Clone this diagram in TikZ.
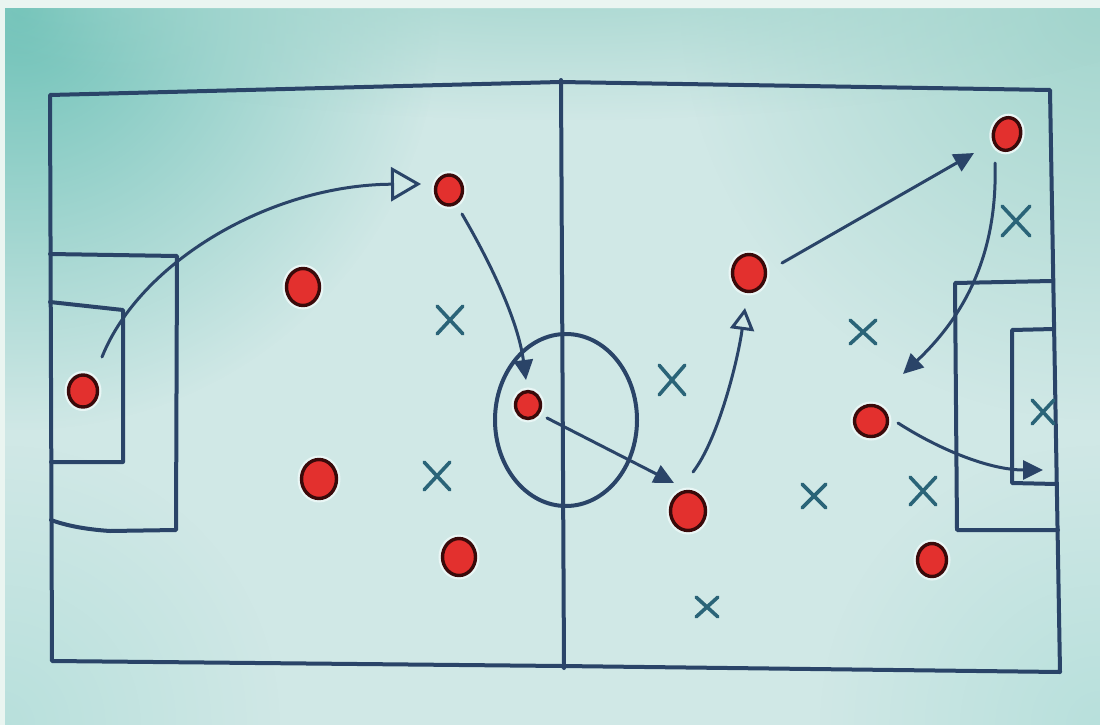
\documentclass[tikz,border=0pt]{standalone}
\usetikzlibrary{arrows.meta,shapes.geometric,shapes.misc,calc,fadings}
\definecolor{navy}{HTML}{2A4468}
\definecolor{teamx}{HTML}{2A6478}
\definecolor{pred}{HTML}{E3302E}
\definecolor{pdark}{HTML}{3A0A0A}
\definecolor{halo}{HTML}{E9F6F5}
\definecolor{paper}{HTML}{D0E8E6}
\definecolor{tealA}{HTML}{6FC2B8}
\definecolor{tealB}{HTML}{A2D5CD}
\definecolor{tealC}{HTML}{B8E0DC}
\definecolor{frame}{HTML}{EAF5F1}
\tikzfading[name=softblob,inner color=transparent!0,outer color=transparent!100]
\begin{document}
\begin{tikzpicture}[x=1pt,y=-1pt,
  fieldline/.style={draw=navy,line width=4pt,line join=round,line cap=round},
  player/.style={ellipse,fill=pred,draw=pdark,line width=3.4pt,inner sep=0pt,
    preaction={draw=halo,line width=8pt}},
  opp/.style={cross out,draw=teamx,line width=3.6pt,inner sep=0pt,line cap=round},
  pass/.style={draw=navy,line width=3pt,line cap=round},
  filledhead/.style={-{Triangle[length=20pt,width=19pt]}},
  bigopen/.style={-{Triangle[open,length=30pt,width=34pt]}},
  smallopen/.style={-{Triangle[open,length=22pt,width=24pt]}},
  blob/.style={path fading=softblob,fit fading=true},
]
\useasboundingbox (0,0) rectangle (1100,725);
% background
\fill[frame] (0,0) rectangle (1100,725);
\begin{scope}
  \clip (5,9) rectangle (1100,725);
  \fill[paper] (5,9) rectangle (1100,725);
  \fill[tealA,blob] (20,10) circle [radius=420];
  \fill[tealB,blob] (1100,0) circle [radius=420];
  \fill[tealB,blob] (560,-40) ellipse [x radius=700,y radius=160];
  \fill[tealC,blob] (0,725) circle [radius=280];
  \fill[tealC,blob] (1100,725) circle [radius=280];
\end{scope}

% pitch outline
\draw[fieldline] (50,95) -- (560,82) -- (1050,90) -- (1060,672) -- (562,666) -- (52,661) -- cycle;
% halfway line
\draw[fieldline] (561,80) -- (564,668);
% centre circle
\draw[fieldline] (566,420) ellipse [x radius=71,y radius=86];
% left penalty area
\draw[fieldline] (50,254) -- (177,256) -- (176,530) -- (110,531) .. controls (80,529) and (62,524) .. (51,520);
% left goal area
\draw[fieldline] (50,302) -- (123,310) -- (123,462) -- (51,462);
% right penalty area
\draw[fieldline] (1052,281) -- (955,283) -- (957,530) -- (1058,530);
% right goal area
\draw[fieldline] (1054,329) -- (1012,330) -- (1012,483) -- (1056,484);

% players (red)
\node[player,minimum width=29pt,minimum height=32pt] (d1) at (83,391) {};
\node[player,minimum width=33pt,minimum height=37pt] (d2) at (303,287) {};
\node[player,minimum width=27pt,minimum height=30pt] (d3) at (449,190) {};
\node[player,minimum width=35pt,minimum height=39pt] (d4) at (319,479) {};
\node[player,minimum width=33pt,minimum height=37pt] (d5) at (459,557) {};
\node[player,minimum width=25pt,minimum height=27pt] (d6) at (528,405) {};
\node[player,minimum width=35pt,minimum height=39pt] (d7) at (688,511) {};
\node[player,minimum width=33pt,minimum height=37pt] (d8) at (749,273) {};
\node[player,minimum width=27pt,minimum height=33pt,rotate=-15] (d9) at (1007,134) {};
\node[player,minimum width=33pt,minimum height=31pt] (d10) at (871,421) {};
\node[player,minimum width=29pt,minimum height=33pt] (d11) at (932,560) {};

% opponents (crosses)
\node[opp,minimum width=22pt,minimum height=24pt] (x1) at (450,320) {};
\node[opp,minimum width=22pt,minimum height=24pt] (x2) at (437,476) {};
\node[opp,minimum width=22pt,minimum height=26pt] (x3) at (672,380) {};
\node[opp,minimum width=22pt,minimum height=20pt] (x4) at (863,332) {};
\node[opp,minimum width=20pt,minimum height=20pt] (x5) at (814,496) {};
\node[opp,minimum width=22pt,minimum height=24pt] (x6) at (923,491) {};
\node[opp,minimum width=18pt,minimum height=16pt] (x7) at (707,607) {};
\node[opp,minimum width=24pt,minimum height=26pt] (x8) at (1016,221) {};
\node[opp,minimum width=18pt,minimum height=20pt] (x9) at (1043,412) {};

% passes
\draw[pass,bigopen] ($(d1)+(19,-34)$) .. controls (140,262) and (270,185) .. ($(d3)+(-28,-6)$);
\draw[pass,filledhead] ($(d3)+(13,24)$) .. controls (490,262) and (518,320) .. ($(d6)+(-2,-25)$);
\draw[pass,filledhead] ($(d6)+(19,13)$) -- ($(d7)+(-14,-28)$);
\draw[pass,smallopen] ($(d7)+(5,-39)$) .. controls (718,440) and (738,360) .. ($(d8)+(-4,35)$);
\draw[pass,filledhead] ($(d8)+(33,-10)$) -- ($(d9)+(-33,19)$);
\draw[pass,filledhead] ($(d9)+(-12,29)$) .. controls (998,260) and (960,320) .. ($(d10)+(32,-47)$);
\draw[pass,filledhead] ($(d10)+(27,2)$) .. controls (940,450) and (990,470) .. ($(d10)+(172,49)$);
\end{tikzpicture}
\end{document}
